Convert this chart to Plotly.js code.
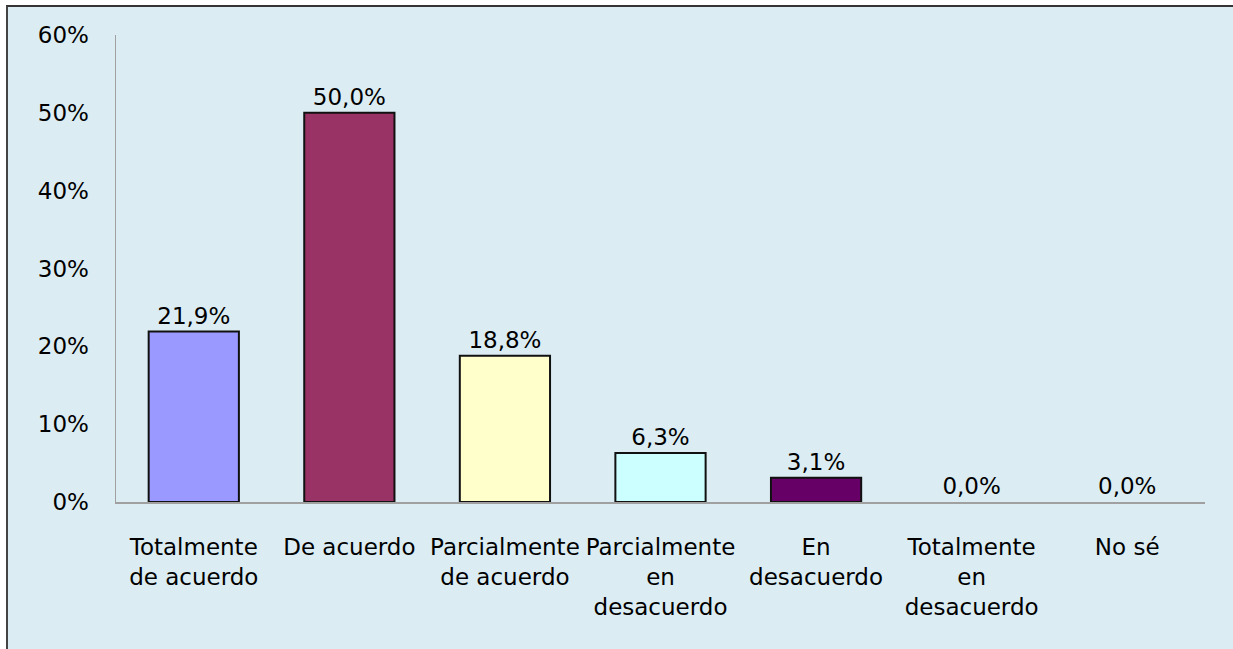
<!DOCTYPE html>
<html>
<head>
<meta charset="utf-8">
<script src="https://cdn.plot.ly/plotly-3.0.1.min.js"></script>
<style>
  body { margin: 0; background: #ffffff; }
  #frame { position: absolute; left: 6px; top: 5px; border-left: 2px solid #444; border-top: 2px solid #333; }
  #chart { width: 1225px; height: 642px; }
</style>
</head>
<body>
<div id="frame"><div id="chart"></div></div>
<script>
var categories = ['Totalmente<br>de acuerdo', 'De acuerdo', 'Parcialmente<br>de acuerdo',
  'Parcialmente<br>en<br>desacuerdo', 'En<br>desacuerdo', 'Totalmente<br>en<br>desacuerdo', 'No sé'];
var shares = [0.219, 0.500, 0.188, 0.063, 0.031, 0.000, 0.000];
var barColors = ['#9999FF', '#993366', '#FFFFCC', '#CCFFFF', '#660066', '#FFFFFF', '#FFFFFF'];

// no outline on empty bars
var outlineWidths = shares.map(function(v) { return v > 0 ? 2 : 0; });

var trace = {
  x: categories,
  y: shares,
  type: 'bar',
  marker: { color: barColors, line: { color: '#111111', width: outlineWidths } },
  texttemplate: '%{y:.1%}',
  textposition: 'outside',
  cliponaxis: false,
  textfont: { color: '#000000', size: 23 },
  hoverinfo: 'skip'
};

var layout = {
  width: 1225,
  height: 642,
  separators: ',.',
  font: { family: 'DejaVu Sans, Verdana, sans-serif', size: 23, color: '#000000' },
  paper_bgcolor: '#DBEDF3',
  plot_bgcolor: '#DBEDF3',
  margin: { l: 108, r: 28, t: 28, b: 147 },
  bargap: 0.42,
  showlegend: false,
  xaxis: {
    showline: true, linecolor: '#A0A0A0', linewidth: 1.5,
    showgrid: false, ticks: '', tickangle: 0,
    ticklabelstandoff: 24
  },
  yaxis: {
    range: [0, 0.6], dtick: 0.1, tickformat: '.0%',
    showline: true, linecolor: '#A0A0A0', linewidth: 1.5,
    showgrid: false, zeroline: false, ticks: '',
    ticklabelstandoff: 21
  }
};

Plotly.newPlot('chart', [trace], layout, { displayModeBar: false, staticPlot: true });
</script>
</body>
</html>
